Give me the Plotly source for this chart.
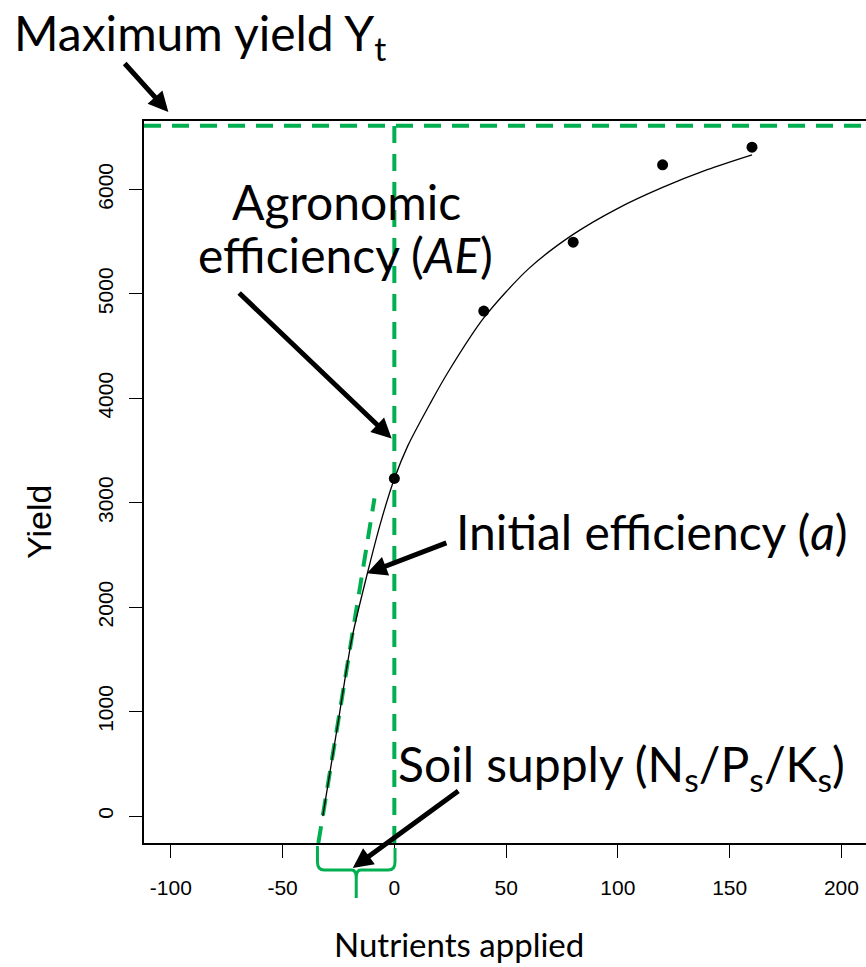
import plotly.graph_objects as go

# ---------------- data ----------------
applied = [0, 40, 80, 120, 160]
yield_obs = [3233, 4836, 5496, 6236, 6405]

curve_x = [-32, -25, -19, -12, -6, 0, 6, 16, 24, 40, 60, 80, 100, 120, 140, 160]
curve_y = [0, 920, 1700, 2330, 2820, 3230, 3545, 3950, 4250, 4770, 5240, 5570, 5820, 6020, 6190, 6332]

tangent_x = [-34.0, -8.9]
tangent_y = [-258, 3042]

max_yield = 6610
soil_left, soil_right = -34.4, 0.3

x_ticks = [-100, -50, 0, 50, 100, 150, 200]
x_tick_labels = ["-100", "-50", "0", "50", "100", "150", "200"]
y_ticks = [0, 1000, 2000, 3000, 4000, 5000, 6000]
y_tick_labels = ["0", "1000", "2000", "3000", "4000", "5000", "6000"]
x_range = [-112, 211]
y_range = [-258, 6656]

GREEN = "#00B050"
DASH = "17px,11px"
W, H = 866, 967
L, R, T, B = 144, 0, 121, 124
PW, PH = W - L - R, H - T - B


def px(x):
    return (x - L) / PW


def py(y):
    return (H - B - y) / PH


fig = go.Figure()

# guide lines (dashed green)
fig.add_trace(go.Scatter(x=x_range, y=[max_yield, max_yield], mode="lines",
                         line=dict(color=GREEN, width=4, dash=DASH), hoverinfo="skip"))
fig.add_trace(go.Scatter(x=[0, 0], y=y_range, mode="lines",
                         line=dict(color=GREEN, width=4, dash=DASH), hoverinfo="skip"))
fig.add_trace(go.Scatter(x=tangent_x, y=tangent_y, mode="lines",
                         line=dict(color=GREEN, width=4, dash=DASH), hoverinfo="skip"))
fig.add_trace(go.Scatter(x=curve_x, y=curve_y, mode="lines",
                         line=dict(color="black", width=1.3, shape="spline", smoothing=0.8),
                         hoverinfo="skip"))
fig.add_trace(go.Scatter(x=applied, y=yield_obs, mode="markers",
                         marker=dict(color="black", size=11), hoverinfo="skip"))

# brace
bx_mid = (soil_left + soil_right) / 2
y_top, y_h, y_tip = py(846), py(870), py(898)
r = py(862) - y_h
path = (f"M {soil_left},{y_top} L {soil_left},{y_h + r} "
        f"Q {soil_left},{y_h} {soil_left + 3},{y_h} L {bx_mid - 2},{y_h} "
        f"Q {bx_mid},{y_h} {bx_mid},{y_h - r} L {bx_mid},{y_tip} "
        f"M {soil_right},{py(848)} L {soil_right},{y_h + r} "
        f"Q {soil_right},{y_h} {soil_right - 3},{y_h} L {bx_mid + 2},{y_h} "
        f"Q {bx_mid},{y_h} {bx_mid},{y_h - r}")
fig.add_shape(type="path", xref="x", yref="paper", path=path,
              line=dict(color=GREEN, width=3))

TXT = dict(family="Lato", size=48, color="black")


def text(s, x, y, xanchor="left", yanchor="middle", font=TXT, **kw):
    fig.add_annotation(text=s, x=px(x), y=py(y), xref="paper", yref="paper",
                       xanchor=xanchor, yanchor=yanchor, showarrow=False,
                       font=font, **kw)


text("Maximum yield Y<sub>t</sub>", 12, 36)
text("Agronomic", 346, 201, xanchor="center")
text("efficiency (<i>AE</i>)", 345, 254, xanchor="center")
text("Initial efficiency (<i>a</i>)", 454, 531)
text("Soil supply (N<sub>s</sub>/P<sub>s</sub>/K<sub>s</sub>)", 396, 767)
text("Nutrients applied", 459, 966, xanchor="center", yanchor="bottom",
     font=dict(family="Lato", size=33, color="black"))
text("Yield", 39, 522, xanchor="center", textangle=-90,
     font=dict(family="Liberation Sans", size=34, color="black"))


# arrows: tip x in data units, tip y in data units or paper; tail as pixel offset
def arrow(x, y, ax, ay, yref="y"):
    fig.add_annotation(x=x, y=y, xref="x", yref=yref, text="", showarrow=True,
                       ax=ax, ay=ay, arrowhead=2, arrowsize=0.8, arrowwidth=5,
                       arrowcolor="black", standoff=0, startstandoff=0)


arrow(-101.1, py(112), -45, -50, yref="paper")
arrow(-1.2, 3615, -154, -147)
arrow(-12.3, 2324, 81, -31)
arrow(-18.6, py(868), 107, -78, yref="paper")

axis_common = dict(showgrid=False, zeroline=False, showline=True, linecolor="black",
                   linewidth=1.5, ticks="outside", ticklen=13, tickwidth=1.3,
                   tickcolor="black",
                   tickfont=dict(family="Liberation Sans", size=21, color="black"))
fig.update_xaxes(range=x_range, tickvals=x_ticks, ticktext=x_tick_labels, mirror=True,
                 ticklabelstandoff=12, **axis_common)
fig.update_yaxes(range=y_range, tickvals=y_ticks, ticktext=y_tick_labels, mirror=False,
                 tickangle=-90, ticklabelstandoff=8, **axis_common)

fig.update_layout(width=W, height=H, margin=dict(l=L, r=R, t=T, b=B),
                  paper_bgcolor="white", plot_bgcolor="white", showlegend=False)

fig.write_html("out.html")
